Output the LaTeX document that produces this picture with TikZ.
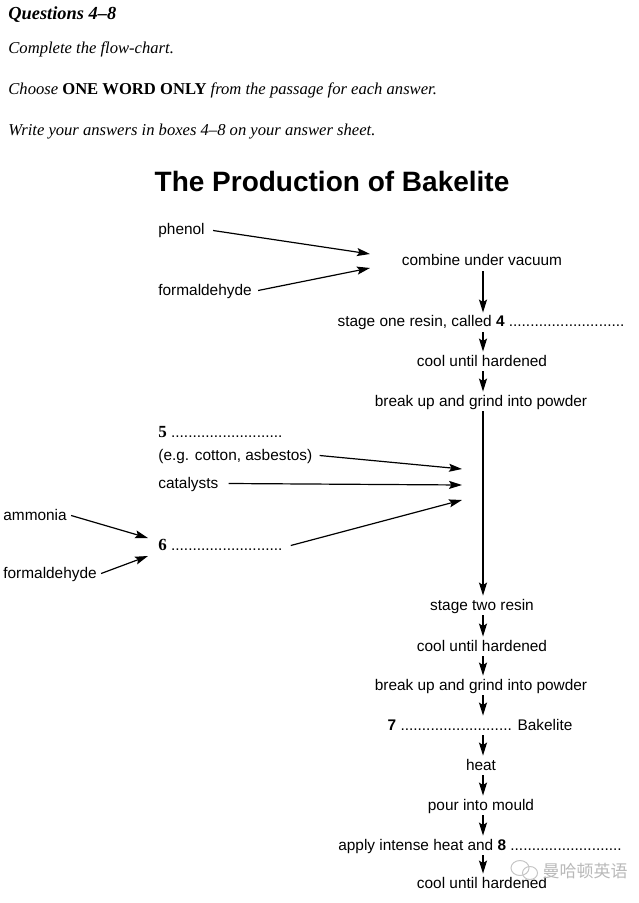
\documentclass[tikz,border=0pt]{standalone}
\usepackage{fontspec}
\setmainfont{Liberation Serif}
\newfontfamily\arialf{Liberation Sans}
\newfontfamily\cjkf{Noto Sans CJK SC}
\usepackage{tikz}
\usetikzlibrary{arrows.meta,positioning,calc}

\begin{document}
\begin{tikzpicture}[
    x=0.5pt, y=-0.5pt,
    hdr/.style={anchor=base west, inner sep=0pt, font=\fontsize{8.3}{10}\selectfont\itshape},
    stepnode/.style={anchor=base, inner xsep=2pt, inner ysep=2.5pt, text height=4.5pt, text depth=0pt, font=\arialf\fontsize{7.7}{9}\selectfont},
    inlbl/.style={stepnode, anchor=base west},
    arr/.style={-{Stealth[length=6.5pt,width=4pt,inset=1.2pt]}, line width=0.7pt},
    feed/.style={arr, line width=0.6pt}
]
\useasboundingbox (0,0) rectangle (638,903);

% instructions
\node[hdr, font=\fontsize{9.2}{11}\selectfont\bfseries\itshape] (qn) at (8,20) {Questions 4--8};
\node[hdr] (h1) at (8,54) {Complete the flow-chart.};
\node[hdr] (h2) at (8,95) {Choose \textbf{\upshape ONE WORD ONLY} from the passage for each answer.};
\node[hdr] (h3) at (8,136) {Write your answers in boxes 4--8 on your answer sheet.};

\node[anchor=base, inner sep=0pt, font=\arialf\bfseries\fontsize{14}{16}\selectfont] (title) at (332,192) {The Production of Bakelite};

% main column
\coordinate (col) at (483,0);
\node[stepnode] (comb) at (482,266) {combine under vacuum};
\node[stepnode] (s1) at (481,327) {stage one resin, called \textbf{4} ...........................};
\node[stepnode] (cool1) at (482,366) {cool until hardened};
\node[stepnode] (grind1) at (481,406) {break up and grind into powder};
\node[stepnode] (s2) at (482,610) {stage two resin};
\node[stepnode] (cool2) at (482,651) {cool until hardened};
\node[stepnode] (grind2) at (481,690) {break up and grind into powder};
\node[stepnode] (b7) at (480,730) {\textbf{7} .......................... Bakelite};
\node[stepnode] (heat) at (481,770) {heat};
\node[stepnode] (pour) at (481,810) {pour into mould};
\node[stepnode] (press) at (480,850) {apply intense heat and \textbf{8} ..........................};
\node[stepnode] (cool3) at (482,888) {cool until hardened};

% inputs
\node[inlbl] (phen) at (154,235) {phenol};
\node[inlbl] (form1) at (154,295) {formaldehyde};
\node[inlbl, font=\fontsize{8.5}{10}\selectfont\bfseries] (five) at (154,437) {5 \arialf\mdseries\fontsize{7.7}{9}\selectfont ..........................};
\node[inlbl] (eg) at (154,460) {(e.g. cotton, asbestos)};
\node[inlbl] (cat) at (154,488) {catalysts};
\node[inlbl] (amm) at (-1,520) {ammonia};
\node[inlbl, font=\fontsize{8.5}{10}\selectfont\bfseries] (six) at (154,550) {6 \arialf\mdseries\fontsize{7.7}{9}\selectfont ..........................};
\node[inlbl] (form2) at (-1,578) {formaldehyde};

\coordinate (c1) at (370,254);
\coordinate (c2) at (370,268);
\coordinate (j1) at (462,469);
\coordinate (j2) at (462,485);
\coordinate (j3) at (462,500);
\coordinate (k1) at (148,538);
\coordinate (k2) at (148,556);

\draw[feed] ([xshift=2pt]phen.east) -- (c1);
\draw[feed] ([xshift=1pt]form1.east) -- (c2);
\draw[feed] ([xshift=1.5pt]eg.east) -- (j1);
\draw[feed] ([xshift=3pt]cat.east) -- (j2);
\draw[feed] ([xshift=2pt]six.east) -- (j3);
\draw[feed] (amm.east) -- (k1);
\draw[feed] (form2.east) -- (k2);

% flow arrows
\foreach \a/\b in {comb/s1, s1/cool1, cool1/grind1, grind1/s2, s2/cool2, cool2/grind2,
    grind2/b7, b7/heat, heat/pour, pour/press, press/cool3}
  \draw[arr] (col |- \a.south) -- (col |- \b.north);

% watermark
\draw[gray!45, line width=0.5pt] (520,868) circle[x radius=9, y radius=7.5];
\draw[gray!45, line width=0.5pt] (530,873) circle[x radius=7.5, y radius=6.5];
\node[anchor=center, inner sep=0pt, text=gray!55, font=\cjkf\fontsize{8.5}{10}\selectfont] (wm) at (585,871) {曼哈顿英语};
\end{tikzpicture}
\end{document}
